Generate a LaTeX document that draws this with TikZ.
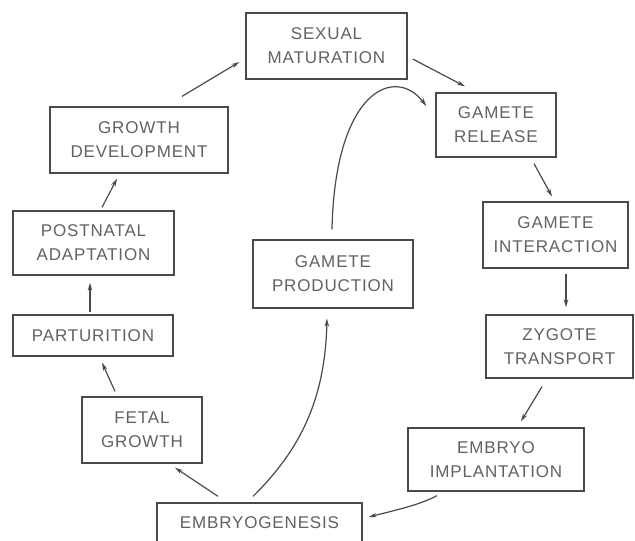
\documentclass[tikz,border=0pt]{standalone}
\usepackage{fontspec}
\setmainfont[LetterSpace=5]{Liberation Sans}
\usetikzlibrary{arrows.meta,calc}
\definecolor{linec}{HTML}{4A4A4A}
\definecolor{textc}{HTML}{626262}
\tikzset{
  box/.style={draw=linec, line width=1.3pt, inner sep=0pt, align=center,
    text=textc, font=\fontsize{17}{24}\selectfont},
  conn/.style={draw=linec, line width=1.2pt, -{Stealth[length=8pt,width=4.5pt]}},
}
\begin{document}
\begin{tikzpicture}[x=1pt,y=-1pt]
\clip (0,0) rectangle (635,541);
\fill[white] (0,0) rectangle (635,541);

\node[box, minimum width=161pt, minimum height=66pt] (sex) at (326.5,46) {SEXUAL\\MATURATION};
\node[box, minimum width=120pt, minimum height=64pt] (rel) at (496,125) {GAMETE\\RELEASE};
\node[box, minimum width=145pt, minimum height=66pt] (int) at (555.5,235) {GAMETE\\INTERACTION};
\node[box, minimum width=147pt, minimum height=63pt] (zyg) at (559.5,346.5) {ZYGOTE\\TRANSPORT};
\node[box, minimum width=176pt, minimum height=63pt] (imp) at (496,459.5) {EMBRYO\\IMPLANTATION};
\node[box, minimum width=205pt, minimum height=40pt] (emb) at (259.5,523) {EMBRYOGENESIS};
\node[box, minimum width=120pt, minimum height=66pt] (fet) at (142,430) {FETAL\\GROWTH};
\node[box, minimum width=160pt, minimum height=41pt] (par) at (93,335.5) {PARTURITION};
\node[box, minimum width=161pt, minimum height=64pt] (post) at (93.5,243) {POSTNATAL\\ADAPTATION};
\node[box, minimum width=178pt, minimum height=66pt] (grow) at (139,140) {GROWTH\\DEVELOPMENT};
\node[box, minimum width=160pt, minimum height=68pt] (prod) at (333,274) {GAMETE\\PRODUCTION};

\draw[conn] ($(grow.north)+(43,-10)$) -- ($(sex.west)+(-6,16)$);
\draw[conn] ($(sex.east)+(5,13)$) -- ($(rel.north)+(-31,-6)$);
\draw[conn] ($(prod.north)+(-1,-10)$) .. controls (335,90) and (395,65) .. ($(rel.west)+(-9,-19)$);
\draw[conn] ($(rel.south)+(38,6)$) -- ($(int.north)+(-3.5,-5)$);
\draw[conn] ($(int.south)+(10.5,5)$) -- ($(zyg.north)+(6.5,-7)$);
\draw[conn] ($(zyg.south)+(-17.5,8)$) -- ($(imp.north)+(25,-6)$);
\draw[conn] ($(imp.south)+(-59,4)$) .. controls (420,505) and (392,511) .. ($(emb.east)+(6,-6)$);
\draw[conn] ($(emb.north)+(-41.5,-6)$) -- ($(fet.south)+(33,4)$);
\draw[conn] ($(emb.north)+(-6.5,-6)$) .. controls (300,450) and (325,400) .. ($(prod.south)+(-6,10)$);
\draw[conn] ($(fet.north)+(-27,-5)$) -- ($(par.south)+(9,6)$);
\draw[conn] ($(par.north)+(-3,-2)$) -- ($(post.south)+(-3.5,7)$);
\draw[conn] ($(post.north)+(8.5,-3)$) -- ($(grow.south)+(-22,5)$);
\end{tikzpicture}
\end{document}
